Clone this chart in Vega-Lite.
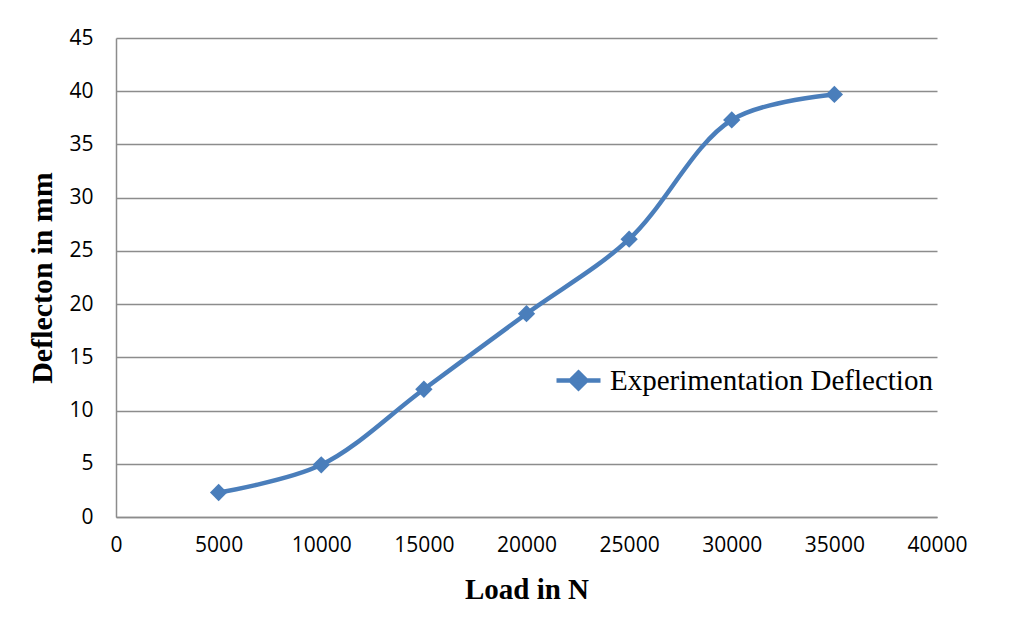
{
  "$schema": "https://vega.github.io/schema/vega-lite/v6.json",
  "autosize": "none",
  "width": 821,
  "height": 479,
  "padding": {"left": 116, "top": 38, "right": 90, "bottom": 116},
  "background": "white",
  "data": {
    "values": [
      {"load": 5000, "deflection": 2.3, "series": "Experimentation Deflection"},
      {"load": 10000, "deflection": 4.9, "series": "Experimentation Deflection"},
      {"load": 15000, "deflection": 12.0, "series": "Experimentation Deflection"},
      {"load": 20000, "deflection": 19.1, "series": "Experimentation Deflection"},
      {"load": 25000, "deflection": 26.1, "series": "Experimentation Deflection"},
      {"load": 30000, "deflection": 37.3, "series": "Experimentation Deflection"},
      {"load": 35000, "deflection": 39.7, "series": "Experimentation Deflection"}
    ]
  },
  "layer": [
    {
      "mark": {"type": "line", "interpolate": "catmull-rom", "strokeWidth": 4.5, "color": "#4A7EBB"},
      "encoding": {
        "x": {"field": "load", "type": "quantitative"},
        "y": {"field": "deflection", "type": "quantitative"},
        "color": {"field": "series", "type": "nominal"}
      }
    },
    {
      "mark": {"type": "point", "shape": "diamond", "filled": true, "size": 300, "opacity": 1, "color": "#4A7EBB"},
      "encoding": {
        "x": {"field": "load", "type": "quantitative"},
        "y": {"field": "deflection", "type": "quantitative"}
      }
    }
  ],
  "encoding": {
    "x": {
      "field": "load",
      "type": "quantitative",
      "scale": {"domain": [0, 40000], "nice": false},
      "axis": {
        "title": "Load in N",
        "values": [0, 5000, 10000, 15000, 20000, 25000, 30000, 35000, 40000],
        "format": "d",
        "grid": false,
        "ticks": false,
        "domainColor": "#8c8c8c",
        "domainWidth": 1.5,
        "labelFont": "Open Sans",
        "labelFontSize": 21,
        "labelColor": "#000000",
        "labelPadding": 17,
        "labelFlush": false,
        "titleFont": "Liberation Serif",
        "titleFontSize": 29,
        "titleFontWeight": "bold",
        "titleColor": "#000000",
        "titlePadding": 20
      }
    },
    "y": {
      "field": "deflection",
      "type": "quantitative",
      "scale": {"domain": [0, 45], "nice": false},
      "axis": {
        "title": "Deflecton in mm",
        "values": [0, 5, 10, 15, 20, 25, 30, 35, 40, 45],
        "grid": true,
        "gridColor": "#8c8c8c",
        "gridWidth": 1.5,
        "ticks": false,
        "domainColor": "#8c8c8c",
        "domainWidth": 1.5,
        "labelFont": "Open Sans",
        "labelFontSize": 21,
        "labelColor": "#000000",
        "labelPadding": 23,
        "labelFlush": false,
        "titleFont": "Liberation Serif",
        "titleFontSize": 30,
        "titleFontWeight": "bold",
        "titleColor": "#000000",
        "titlePadding": 11
      }
    }
  },
  "resolve": {"scale": {"color": "shared"}},
  "config": {
    "view": {"stroke": null},
    "range": {"category": ["#4A7EBB"]},
    "legend": {
      "orient": "none",
      "legendX": 438,
      "legendY": 318,
      "title": null,
      "padding": 0,
      "symbolType": "M-1,0L1,0M0,-0.36L0.36,0L0,0.36L-0.36,0Z",
      "symbolSize": 1936,
      "symbolStrokeWidth": 4.5,
      "symbolStrokeColor": "#4A7EBB",
      "symbolFillColor": "#4A7EBB",
      "symbolOpacity": 1,
      "labelFont": "Liberation Serif",
      "labelFontSize": 29,
      "labelColor": "#000000",
      "labelOffset": 7,
      "labelLimit": 500
    }
  }
}
